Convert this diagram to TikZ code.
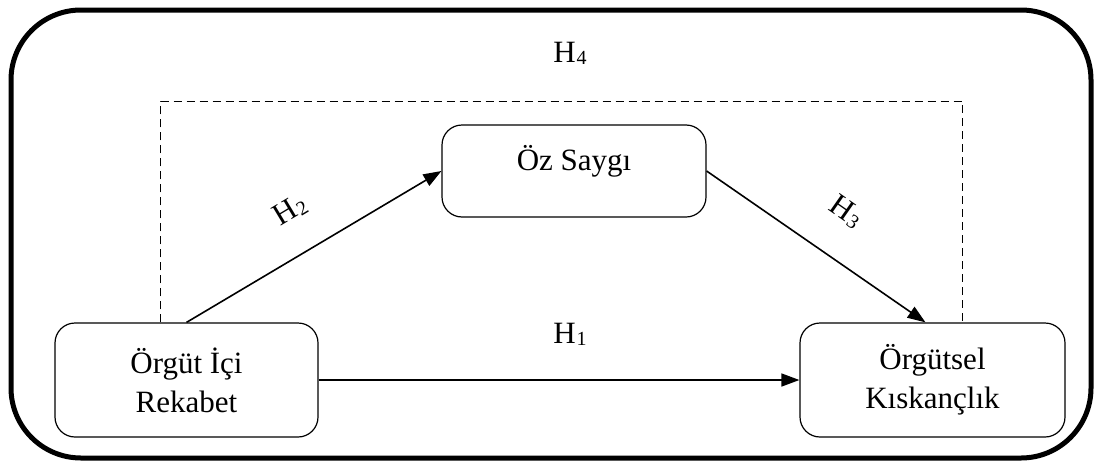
\documentclass[tikz,border=0pt]{standalone}
\usepackage{fontspec}
\setmainfont{Liberation Serif}
\usetikzlibrary{arrows.meta}
\newcommand{\hlab}[1]{H\kern1pt\raisebox{-2pt}{\fontsize{20}{20}\selectfont #1}}
\begin{document}
\begin{tikzpicture}[x=1pt,y=-1pt,
  vbox/.style={draw,line width=1.2pt,rounded corners=20pt,align=center,inner sep=0pt,
    font=\fontsize{31}{39}\selectfont},
  arr/.style={line width=1.6pt,-{Triangle[length=18pt,width=13pt]}},
  hl/.style={font=\fontsize{31}{32}\selectfont,inner sep=0pt}]
\useasboundingbox (0,0) rectangle (1102,466);
\draw[line width=5pt,rounded corners=70pt] (11,10) rectangle (1091,458);
\node[vbox,minimum width=263pt,minimum height=114pt] (L) at (186.5,380) {Örgüt İçi\\Rekabet};
\node[vbox,minimum width=264pt,minimum height=92pt] (T) at (574,171) {\raisebox{1pt}[0pt][0pt]{Öz Saygı}};
\node[vbox,minimum width=265pt,minimum height=114pt] (R) at (932.5,380) {Örgütsel\\Kıskançlık};
\draw[line width=1.8pt,dash pattern=on 8pt off 5pt] ([xshift=-26pt]L.north) -- ++(0,-221) -| ([xshift=30pt]R.north);
\draw[arr] (L.north) -- (T.west);
\draw[arr] (T.east) -- ([xshift=-7pt]R.north);
\draw[arr] (L.east) -- (R.west);
\node[hl] (h4) at (570,53) {\hlab{4}};
\node[hl] (h1) at (570,334) {\hlab{1}};
\node[hl,rotate=31] (h2) at (290,210) {\hlab{2}};
\node[hl,rotate=-35] (h3) at (846,212) {\hlab{3}};
\end{tikzpicture}
\end{document}
